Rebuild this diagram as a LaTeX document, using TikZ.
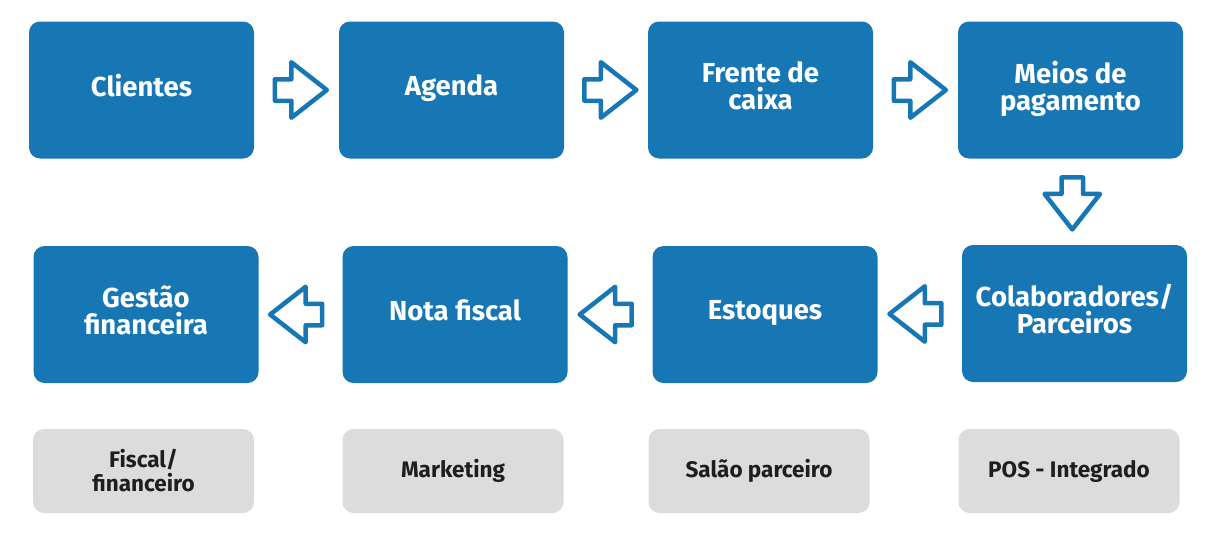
\documentclass[tikz,border=0pt]{standalone}
\usepackage{fontspec}
\setmainfont{Fira Sans}
\usetikzlibrary{shapes.arrows,calc}

\definecolor{stepblue}{RGB}{23,119,181}
\definecolor{notegray}{RGB}{220,220,220}
\definecolor{notetext}{RGB}{30,30,30}

\tikzset{
  stage/.style={fill=stepblue, rounded corners=11pt, minimum width=225pt,
    minimum height=137pt, text=white, align=center, text depth=9pt,
    font=\bfseries\fontsize{27.5}{27}\selectfont},
  note/.style={fill=notegray, rounded corners=11pt, minimum width=221pt,
    minimum height=84pt, text=notetext, align=center,
    font=\bfseries\fontsize{22.5}{24}\selectfont},
  flow/.style={single arrow, draw=stepblue, fill=white, line width=4.5pt,
    line join=round, inner sep=8.5pt, minimum width=0pt,
    minimum height=52pt, single arrow head extend=17pt,
    single arrow tip angle=76},
}

\begin{document}
\begin{tikzpicture}[x=1pt,y=-1pt]
  \useasboundingbox (0,0) rectangle (1214,536);

  % first row of steps
  \node[stage] (clientes) at (141.5,90) {Clientes};
  \node[stage] (agenda) at (451.5,90) {Agenda};
  \node[stage] (frente) at (760.5,90) {Frente de\\caixa};
  \node[stage] (meios) at (1070.5,90) {Meios de\\pagamento};

  % second row of steps
  \node[stage] (gestao) at (146,314.5) {Gestão\\financeira};
  \node[stage] (nota) at (455,314.5) {Nota fiscal};
  \node[stage] (estoques) at (765,314.5) {Estoques};
  \node[stage] (colab) at (1074.5,313.5) {Colaboradores/\\Parceiros};

  % grey notes
  \node[note] (fiscal) at (143.5,471) {Fiscal/\\financeiro};
  \node[note] (marketing) at (453,471) {Marketing};
  \node[note] (salao) at (759,471) {Salão parceiro};
  \node[note] (pos) at (1069,471) {POS - Integrado};

  % block arrows between the steps
  \node[flow] (a1) at ($(clientes.east)!0.47!(agenda.west)$) {};
  \node[flow] (a2) at ($(agenda.east)!0.47!(frente.west)$) {};
  \node[flow] (a3) at ($(frente.east)!0.47!(meios.west)$) {};
  \node[flow, shape border rotate=270] (a4) at ($(meios.south)!0.44!(colab.north)$) {};
  \node[flow, shape border rotate=180] (a5) at ($(colab.west)!0.47!(estoques.east)$) {};
  \node[flow, shape border rotate=180] (a6) at ($(estoques.west)!0.47!(nota.east)$) {};
  \node[flow, shape border rotate=180] (a7) at ($(nota.west)!0.47!(gestao.east)$) {};

\end{tikzpicture}
\end{document}
